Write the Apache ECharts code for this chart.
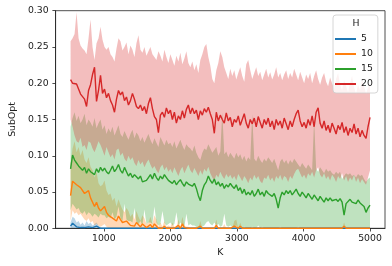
<!DOCTYPE html>
<html><head><meta charset="utf-8">
<script src="https://cdn.jsdelivr.net/npm/echarts@6/dist/echarts.min.js"></script>
<style>html,body{margin:0;padding:0;background:#fff}#c{width:392px;height:266px}</style>
</head><body><div id="c"></div>
<script>
const K = [500,530,560,590,620,650,680,710,740,770,800,830,860,890,920,950,980,1010,1040,1070,
1100,1130,1160,1190,1220,1250,1280,1310,1340,1370,1400,1430,1460,1490,1520,1550,1580,1610,1640,1670,
1700,1730,1760,1790,1820,1850,1880,1910,1940,1970,2000,2030,2060,2090,2120,2150,2180,2210,2240,2270,
2300,2330,2360,2390,2420,2450,2480,2510,2540,2570,2600,2630,2660,2690,2720,2750,2780,2810,2840,2870,
2900,2930,2960,2990,3020,3050,3080,3110,3140,3170,3200,3230,3260,3290,3320,3350,3380,3410,3440,3470,
3500,3530,3560,3590,3620,3650,3680,3710,3740,3770,3800,3830,3860,3890,3920,3950,3980,4010,4040,4070,
4100,4130,4160,4190,4220,4250,4280,4310,4340,4370,4400,4430,4460,4490,4520,4550,4580,4610,4640,4670,
4700,4730,4760,4790,4820,4850,4880,4910,4940,4970,5000];
const xTicks = [1000,2000,3000,4000,5000];

// H = 5
const mean5 = [.003,.007,.005,.002,.003,.001,.002,.001,.003,.002,
.003,.001,.002,.003,.001,0,0,0,0,0,
0,0,0,0,0,0,0,0,0,0, 0,0,0,0,0,0,0,0,0,0, 0,0,0,0,0,0,0,0,0,0,
0,0,0,0,0,0,0,0,0,0, 0,0,0,0,0,0,0,0,0,0, 0,0,0,0,0,0,0,0,0,0,
0,0,0,0,0,0,0,0,0,0, 0,0,0,0,0,0,0,0,0,0, 0,0,0,0,0,0,0,0,0,0,
0,0,0,0,0,0,0,0,0,0, 0,0,0,0,0,0,0,0,0,0, 0,0,0,0,0,0,0,0,0,0,
0,0,0,0,0,0,0,0,0,0, 0];
const hi5 = [.008,.016,.014,.008,.010,.005,.008,.004,.010,.006,
.008,.004,.006,.008,.004,.001,0,0,0,0,
0,0,0,0,0,0,0,0,0,0, 0,0,0,0,0,0,0,0,0,0, 0,0,0,0,0,0,0,0,0,0,
0,0,0,0,0,0,0,0,0,0, 0,0,0,0,0,0,0,0,0,0, 0,0,0,0,0,0,0,0,0,0,
0,0,0,0,0,0,0,0,0,0, 0,0,0,0,0,0,0,0,0,0, 0,0,0,0,0,0,0,0,0,0,
0,0,0,0,0,0,0,0,0,0, 0,0,0,0,0,0,0,0,0,0, 0,0,0,0,0,0,0,0,0,0,
0,0,0,0,0,0,0,0,0,0, 0];
const lo5 = [0,0,0,0,0,0,0,0,0,0, 0,0,0,0,0,0,0,0,0,0,
0,0,0,0,0,0,0,0,0,0, 0,0,0,0,0,0,0,0,0,0, 0,0,0,0,0,0,0,0,0,0,
0,0,0,0,0,0,0,0,0,0, 0,0,0,0,0,0,0,0,0,0, 0,0,0,0,0,0,0,0,0,0,
0,0,0,0,0,0,0,0,0,0, 0,0,0,0,0,0,0,0,0,0, 0,0,0,0,0,0,0,0,0,0,
0,0,0,0,0,0,0,0,0,0, 0,0,0,0,0,0,0,0,0,0, 0,0,0,0,0,0,0,0,0,0,
0,0,0,0,0,0,0,0,0,0, 0];

// H = 10
const mean10 = [.045,.065,.064,.060,.061,.056,.058,.048,.046,.052,
.042,.040,.030,.036,.028,.024,.026,.030,.022,.018,
.020,.014,.016,.010,.017,.012,.008,.006,.010,.007,
.004,.006,.003,.008,.005,.002,.006,.004,.001,.002,
.005,.001,.006,.004,0,.002,0,.003,0,.001,
0,.002,0,0,.004,0,.006,.001,0,0,
0,0,0,0,0,.003,0,0,0,0,
0,0,0,.004,0,0,0,.002,0,0,
0,0,.003,.004,0,.003,0,0,0,0,
0,0,0,0,0,0,0,0,0,0, 0,0,0,0,0,0,0,0,0,0, 0,0,0,0,0,0,0,0,0,0,
0,0,0,0,0,0,0,0,0,0, 0,0,0,0,0,0,0,.003,0,0,
0,0,0,0,0,0,0,0,0,0, 0];
const hi10 = [.090,.110,.120,.105,.112,.100,.108,.095,.090,.098,
.085,.080,.070,.078,.062,.058,.060,.066,.052,.046,
.048,.038,.042,.030,.040,.032,.026,.022,.028,.024,
.016,.020,.012,.024,.016,.010,.018,.014,.006,.008,
.016,.006,.018,.012,.002,.008,.002,.010,.002,.004,
.002,.008,.002,.002,.012,.002,.016,.004,.002,.002,
0,0,0,0,0,.010,0,0,0,0,
0,0,0,.012,0,0,0,.006,0,0,
0,0,.010,.012,0,.008,0,0,0,0,
0,0,0,0,0,0,0,0,0,0, 0,0,0,0,0,0,0,0,0,0, 0,0,0,0,0,0,0,0,0,0,
0,0,0,0,0,0,0,0,0,0, 0,0,0,0,0,0,0,.008,0,0,
0,0,0,0,0,0,0,0,0,0, 0];
const lo10 = [.010,.025,.020,.022,.018,.020,.016,.012,.010,.014,
.008,.010,.004,.006,.004,.002,.004,.006,.002,0,
0,0,0,0,0,0,0,0,0,0, 0,0,0,0,0,0,0,0,0,0, 0,0,0,0,0,0,0,0,0,0,
0,0,0,0,0,0,0,0,0,0, 0,0,0,0,0,0,0,0,0,0, 0,0,0,0,0,0,0,0,0,0,
0,0,0,0,0,0,0,0,0,0, 0,0,0,0,0,0,0,0,0,0, 0,0,0,0,0,0,0,0,0,0,
0,0,0,0,0,0,0,0,0,0, 0,0,0,0,0,0,0,0,0,0, 0,0,0,0,0,0,0,0,0,0,
0,0,0,0,0,0,0,0,0,0, 0];

// H = 15
const mean15 = [.082,.101,.094,.090,.086,.088,.080,.084,.076,.082,
.078,.080,.074,.082,.077,.084,.079,.083,.078,.075,
.080,.086,.078,.082,.088,.080,.076,.084,.078,.072,
.076,.070,.074,.071,.068,.072,.064,.062,.066,.070,
.074,.068,.076,.070,.066,.072,.068,.074,.070,.066,
.068,.062,.066,.060,.064,.067,.062,.058,.064,.061,
.063,.058,.062,.055,.045,.038,.052,.060,.064,.072,
.066,.062,.068,.060,.064,.058,.062,.055,.060,.057,
.062,.058,.055,.060,.052,.056,.048,.054,.046,.050,
.046,.052,.044,.048,.054,.046,.050,.044,.052,.048,
.050,.044,.048,.040,.028,.042,.050,.046,.052,.048,
.052,.046,.050,.054,.048,.044,.050,.046,.042,.048,
.044,.040,.046,.042,.038,.044,.040,.036,.042,.038,
.042,.038,.036,.040,.037,.041,.036,.018,.034,.036,
.040,.036,.038,.034,.039,.035,.037,.030,.022,.028,
.032];
const hi15 = [.140,.152,.160,.148,.155,.145,.150,.158,.142,.150,
.146,.140,.152,.138,.145,.150,.136,.142,.130,.138,
.132,.140,.128,.135,.142,.130,.126,.134,.128,.122,
.130,.136,.124,.132,.128,.120,.126,.118,.124,.130,
.122,.116,.124,.118,.112,.126,.120,.114,.122,.116,
.118,.112,.120,.110,.116,.122,.114,.108,.116,.112,
.110,.106,.114,.104,.098,.094,.104,.110,.108,.116,
.110,.104,.108,.112,.100,.106,.160,.102,.106,.098,
.104,.100,.096,.104,.098,.102,.094,.100,.092,.098,
.094,.158,.096,.092,.100,.094,.090,.096,.092,.098,
.094,.090,.096,.088,.080,.092,.096,.090,.094,.088,
.094,.090,.096,.092,.088,.084,.090,.086,.082,.088,
.084,.080,.150,.082,.078,.084,.080,.076,.082,.078,
.080,.076,.074,.078,.075,.078,.068,.072,.076,.074,
.076,.072,.074,.070,.075,.072,.074,.068,.064,.068,
.070];
const lo15 = [.025,.034,.030,.026,.028,.022,.020,.024,.018,.022,
.020,.016,.020,.018,.015,.020,.018,.018,.014,.016,
.014,.022,.012,.016,.030,.014,.010,.034,.012,.010,
.010,.008,.028,.008,.006,.010,.004,.026,.006,.008,
.008,.006,.030,.008,.004,.006,.024,.008,.004,.006,
.008,.004,.006,.022,.004,.008,.004,.002,.020,.004,
.006,.004,.004,.002,0,0,.002,.004,.008,.010,
.006,.004,.008,.004,.006,.002,.004,.020,.004,.002,
.004,.002,.002,.004,0,.002,0,.002,0,0,
0,.002,0,0,.004,0,.002,0,0,0,
0,0,0,0,0,.002,0,0,0,0, 0,0,0,0,.002,0,0,0,0,0,
0,0,0,0,0,0,0,0,0,0, 0,0,0,0,0,0,0,0,0,0,
0,0,0,0,0,0,0,0,0,0, 0];

// H = 20
const mean20 = [.205,.200,.202,.199,.192,.185,.187,.178,.168,.190,
.198,.212,.222,.175,.190,.211,.186,.192,.180,.186,
.176,.170,.160,.178,.190,.184,.188,.176,.181,.170,
.176,.186,.178,.168,.165,.170,.162,.168,.158,.172,
.180,.165,.154,.150,.132,.156,.160,.153,.166,.158,
.163,.150,.160,.145,.155,.150,.162,.152,.164,.170,
.158,.166,.158,.163,.150,.162,.156,.165,.160,.167,
.158,.150,.131,.160,.148,.156,.150,.145,.159,.148,
.153,.140,.150,.146,.155,.142,.150,.158,.145,.138,
.150,.144,.152,.140,.154,.146,.138,.150,.143,.152,
.140,.148,.136,.150,.142,.148,.138,.152,.144,.136,
.148,.140,.150,.158,.163,.148,.140,.146,.138,.150,
.142,.155,.140,.160,.166,.145,.138,.148,.135,.142,
.132,.145,.138,.130,.142,.136,.146,.132,.140,.128,
.138,.132,.144,.130,.138,.126,.135,.128,.124,.140,
.153];
const hi20 = [.258,.262,.268,.298,.262,.252,.248,.245,.240,.262,
.288,.250,.232,.255,.262,.278,.260,.250,.246,.250,
.240,.236,.230,.248,.262,.258,.245,.250,.256,.240,
.252,.246,.236,.255,.266,.246,.242,.250,.238,.244,
.250,.240,.236,.232,.244,.238,.230,.246,.236,.228,
.240,.232,.224,.238,.230,.242,.226,.234,.244,.228,
.222,.230,.218,.226,.214,.232,.240,.250,.254,.236,
.224,.206,.200,.218,.228,.244,.236,.222,.214,.206,
.220,.210,.218,.205,.214,.222,.210,.202,.226,.232,
.218,.206,.214,.222,.210,.216,.204,.212,.220,.208,
.215,.205,.212,.222,.208,.214,.204,.212,.218,.206,
.214,.208,.220,.212,.204,.216,.208,.200,.212,.206,
.214,.200,.210,.218,.206,.198,.208,.214,.202,.196,
.208,.200,.192,.206,.214,.198,.190,.204,.196,.188,
.200,.210,.194,.186,.198,.190,.206,.196,.186,.194,
.200];
const lo20 = [.150,.140,.128,.120,.118,.125,.112,.115,.108,.120,
.118,.110,.105,.112,.120,.115,.108,.100,.112,.105,
.098,.102,.095,.108,.110,.100,.104,.096,.092,.100,
.094,.098,.090,.086,.094,.088,.092,.084,.090,.095,
.088,.082,.086,.080,.076,.084,.088,.080,.085,.078,
.082,.076,.084,.078,.072,.080,.085,.076,.082,.088,
.080,.076,.083,.078,.072,.080,.074,.082,.078,.085,
.076,.070,.066,.074,.070,.078,.072,.068,.075,.070,
.074,.068,.072,.066,.075,.070,.065,.072,.068,.062,
.070,.066,.074,.068,.072,.065,.062,.070,.068,.074,
.066,.070,.064,.072,.068,.074,.066,.072,.070,.064,
.072,.068,.075,.080,.082,.076,.070,.074,.068,.076,
.072,.078,.070,.080,.084,.074,.070,.076,.068,.072,
.066,.074,.070,.064,.072,.068,.076,.066,.072,.064,
.070,.066,.074,.064,.070,.062,.068,.064,.060,.070,
.080];

const groups = [
  {name:'5',  color:'#1f77b4', mean:mean5,  lo:lo5,  hi:hi5},
  {name:'10', color:'#ff7f0e', mean:mean10, lo:lo10, hi:hi10},
  {name:'15', color:'#2ca02c', mean:mean15, lo:lo15, hi:hi15},
  {name:'20', color:'#d62728', mean:mean20, lo:lo20, hi:hi20}
];

function rgba(hex, a){
  const n = parseInt(hex.slice(1),16);
  return 'rgba('+((n>>16)&255)+','+((n>>8)&255)+','+(n&255)+','+a+')';
}

const series = [];
groups.forEach(g => {
  series.push({
    name: g.name, type:'line', showSymbol:false, symbol:'none',
    data: K.map((k,i)=>[k, g.mean[i]]),
    lineStyle:{color:g.color, width:1.4}, itemStyle:{color:g.color},
    animation:false
  });
  series.push({
    name: 'band'+g.name, type:'custom', silent:true, clip:true, animation:false,
    data: [[K[0], g.lo[0]]],
    renderItem: function(params, api){
      const pts = [];
      for (let i = 0; i < K.length; i++) pts.push(api.coord([K[i], g.hi[i]]));
      for (let i = K.length - 1; i >= 0; i--) pts.push(api.coord([K[i], g.lo[i]]));
      return {type:'polygon', shape:{points:pts}, style:{fill:rgba(g.color,0.3), stroke:null}};
    }
  });
});

const FS = 9.3, TXT = '#222', FONT = 'DejaVu Sans';
const chart = echarts.init(document.getElementById('c'), null, {renderer:'canvas'});
chart.setOption({
  animation:false,
  textStyle:{fontFamily:FONT},
  grid:{left:51, right:7, top:10.7, bottom:37.7, show:true, borderColor:'#222', borderWidth:0.8, backgroundColor:'transparent'},
  xAxis:{
    type:'value', min:275, max:5225, name:'K', nameLocation:'middle', nameGap:20,
    nameTextStyle:{fontSize:FS, color:TXT, fontFamily:FONT},
    axisLine:{show:true, onZero:false, lineStyle:{color:'#222', width:0.8}},
    axisTick:{show:true, length:3.2, lineStyle:{color:'#222', width:0.8}, customValues:xTicks},
    axisLabel:{fontSize:FS, color:TXT, margin:6, fontFamily:FONT, customValues:xTicks, formatter:v=>String(v)},
    splitLine:{show:false}
  },
  yAxis:{
    type:'value', min:0, max:0.3, interval:0.05, name:'SubOpt', nameLocation:'middle', nameGap:35,
    nameTextStyle:{fontSize:FS, color:TXT, fontFamily:FONT},
    axisLine:{show:true, lineStyle:{color:'#222', width:0.8}},
    axisTick:{show:true, length:3.2, lineStyle:{color:'#222', width:0.8}},
    axisLabel:{fontSize:FS, color:TXT, margin:7, fontFamily:FONT, formatter:v=>v.toFixed(2)},
    splitLine:{show:false}
  },
  legend:{
    data:['5','10','15','20'], orient:'vertical', left:333, top:15,
    padding:[18,5,3,2], itemGap:3, itemWidth:21, itemHeight:2, itemTextGap:8, icon:'rect',
    backgroundColor:'rgba(255,255,255,0.8)', borderColor:'#ccc', borderWidth:0.8, borderRadius:3,
    textStyle:{fontSize:FS, color:TXT, fontFamily:FONT, lineHeight:12, height:12}
  },
  graphic:[{type:'text', left:352.5, top:19.5, z:100, style:{text:'H', fontSize:FS, fontFamily:FONT, fill:TXT}}],
  series: series
});
</script></body></html>
